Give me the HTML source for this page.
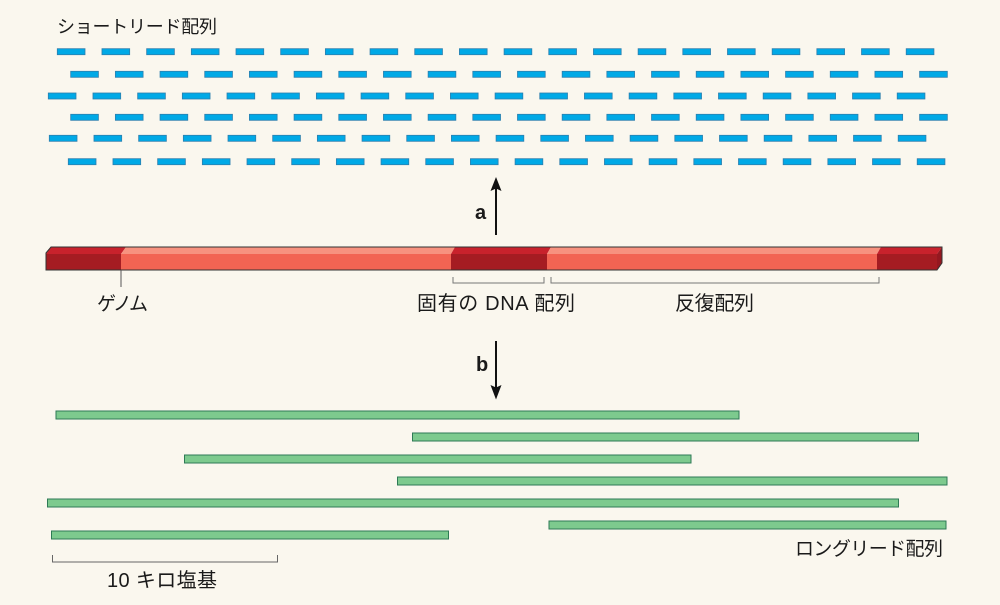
<!DOCTYPE html>
<html><head><meta charset="utf-8"><style>
html,body{margin:0;padding:0;background:#faf7ee;}
svg{display:block;}
text{font-family:"Liberation Sans","Noto Sans CJK JP",sans-serif;fill:#1a1a1a;}
</style></head><body>
<svg width="1000" height="605" viewBox="0 0 1000 605" xmlns="http://www.w3.org/2000/svg">
<rect width="1000" height="605" fill="#faf7ee"/>
<defs>
<g id="row">
<rect x="0" y="0" width="27.7" height="6"/>
<rect x="44.68" y="0" width="27.7" height="6"/>
<rect x="89.36" y="0" width="27.7" height="6"/>
<rect x="134.04" y="0" width="27.7" height="6"/>
<rect x="178.72" y="0" width="27.7" height="6"/>
<rect x="223.4" y="0" width="27.7" height="6"/>
<rect x="268.08" y="0" width="27.7" height="6"/>
<rect x="312.76" y="0" width="27.7" height="6"/>
<rect x="357.44" y="0" width="27.7" height="6"/>
<rect x="402.12" y="0" width="27.7" height="6"/>
<rect x="446.8" y="0" width="27.7" height="6"/>
<rect x="491.48" y="0" width="27.7" height="6"/>
<rect x="536.16" y="0" width="27.7" height="6"/>
<rect x="580.84" y="0" width="27.7" height="6"/>
<rect x="625.52" y="0" width="27.7" height="6"/>
<rect x="670.2" y="0" width="27.7" height="6"/>
<rect x="714.88" y="0" width="27.7" height="6"/>
<rect x="759.56" y="0" width="27.7" height="6"/>
<rect x="804.24" y="0" width="27.7" height="6"/>
<rect x="848.92" y="0" width="27.7" height="6"/>
</g>
</defs>

<text x="57" y="33" font-size="18" textLength="160">ショートリード配列</text>

<g fill="#00a9e6" stroke="#2c7fae" stroke-width="0.8">
<use href="#row" x="57.3" y="48.7"/>
<use href="#row" x="70.7" y="71.3"/>
<use href="#row" x="48.3" y="93"/>
<use href="#row" x="70.7" y="114.3"/>
<use href="#row" x="49.3" y="135.3"/>
<use href="#row" x="68.3" y="158.7"/>
</g>

<!-- arrow a -->
<line x1="496" y1="235" x2="496" y2="186" stroke="#111" stroke-width="2"/>
<polygon points="496,177 490.5,191 496,188.5 501.5,191" fill="#111"/>
<text x="475" y="219" font-size="20" font-weight="bold">a</text>

<!-- genome bar -->
<g>
<!-- front faces -->
<rect x="46" y="254" width="75" height="16" fill="#a51c22"/>
<rect x="121" y="254" width="330" height="16" fill="#f26453"/>
<rect x="451" y="254" width="96" height="16" fill="#a51c22"/>
<rect x="547" y="254" width="330" height="16" fill="#f26453"/>
<rect x="877" y="254" width="60" height="16" fill="#a51c22"/>
<!-- top faces -->
<polygon points="46,254 51,247 126,247 121,254" fill="#c8222c"/>
<polygon points="121,254 126,247 455,247 451,254" fill="#f7927f"/>
<polygon points="451,254 455,247 551,247 547,254" fill="#c8222c"/>
<polygon points="547,254 551,247 881,247 877,254" fill="#f7927f"/>
<polygon points="877,254 881,247 942,247 937,254" fill="#c8222c"/>
<!-- right side -->
<polygon points="937,254 942,247 942,263 937,270" fill="#951820"/>
<polygon points="46,253 51,247 942,247 942,263 937,270 46,270" fill="none" stroke="#333" stroke-width="1"/>
</g>

<line x1="121" y1="270" x2="121" y2="287" stroke="#555" stroke-width="1"/>
<path d="M453,277 V283 H544 V277 M551,277 V283 H879 V277" fill="none" stroke="#777" stroke-width="1"/>

<text x="97" y="310" font-size="19" textLength="51">ゲノム</text>
<text x="417" y="310" font-size="20" textLength="158">固有の DNA 配列</text>
<text x="675" y="310" font-size="20" textLength="79">反復配列</text>

<!-- arrow b -->
<line x1="496" y1="341" x2="496" y2="390" stroke="#111" stroke-width="2"/>
<polygon points="496,399.5 490.5,385 496,387.5 501.5,385" fill="#111"/>
<text x="476" y="371" font-size="20" font-weight="bold">b</text>

<!-- long reads -->
<g fill="#7dca8e" stroke="#2e7a55" stroke-width="1">
<rect x="56" y="411" width="683" height="8"/>
<rect x="412.5" y="433" width="506" height="8"/>
<rect x="184.5" y="455" width="506.5" height="8"/>
<rect x="397.5" y="477" width="549.5" height="8"/>
<rect x="47.5" y="499" width="851" height="8"/>
<rect x="549" y="521" width="397" height="8"/>
<rect x="51.5" y="531" width="397" height="8"/>
</g>

<path d="M52.5,555 V562 H277.5 V555" fill="none" stroke="#666" stroke-width="1"/>
<text x="107" y="587" font-size="20" textLength="110">10 キロ塩基</text>
<text x="795" y="555" font-size="19" textLength="148">ロングリード配列</text>
</svg>
</body></html>
